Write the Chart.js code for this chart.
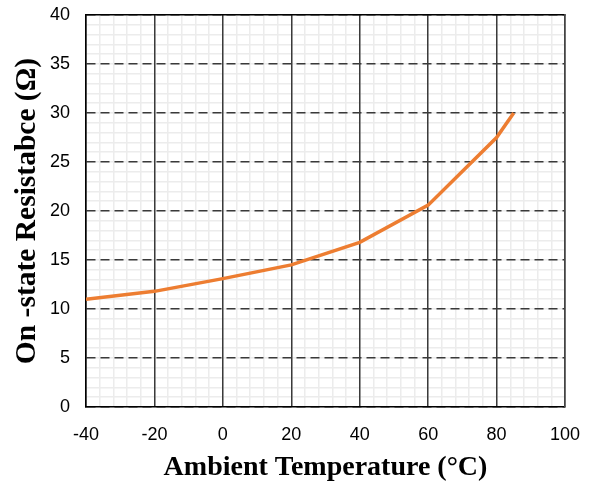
<!DOCTYPE html>
<html>
<head>
<meta charset="utf-8">
<script src="https://cdn.jsdelivr.net/npm/chart.js@4"></script>
<style>
  html, body { margin: 0; padding: 0; background: #fff; }
  #wrap { width: 590px; height: 482px; }
</style>
</head>
<body>
<div id="wrap"><canvas id="chart" width="590" height="482"></canvas></div>
<script>
    'use strict'

    var temps = [-40, -20, 0, 20, 40, 60, 80, 85];
    var resistance = [11.0, 11.8, 13.1, 14.5, 16.8, 20.6, 27.5, 30.0];
    var xTicks = [-40, -20, 0, 20, 40, 60, 80, 100];
    var yTicks = [0, 5, 10, 15, 20, 25, 30, 35, 40];

    var points = temps.map(function (t, i) { return { x: t, y: resistance[i] }; });

    var tickFont = { family: "'Liberation Sans', Arial, sans-serif", size: 18 };
    var serif = "'Liberation Serif', 'Times New Roman', serif";

    function noPadX(s) { s.height = 75; s.paddingLeft = 0; s.paddingRight = 0; }
    function noPadY(s) { s.width = 86; s.paddingTop = 0; s.paddingBottom = 0; }

    var ctx = document.getElementById('chart').getContext('2d');
    var myChart = new Chart(ctx, {
        type: 'line',
        data: {
            datasets: [{
                data: points,
                borderColor: '#ED7D31',
                borderWidth: 3.5,
                pointRadius: 0,
                tension: 0,
                fill: false
            }]
        },
        options: {
            responsive: false,
            animation: false,
            layout: { padding: { top: 15, right: 25, left: 0, bottom: 0 } },
            plugins: { legend: { display: false }, tooltip: { enabled: false } },
            scales: {
                x: {
                    type: 'linear',
                    position: 'bottom',
                    min: xTicks[0],
                    max: xTicks[xTicks.length - 1],
                    afterBuildTicks: function (s) { s.ticks = xTicks.map(function (v) { return { value: v }; }); },
                    afterFit: noPadX,
                    grid: { color: '#3a3a3a', lineWidth: 1.5, drawTicks: false },
                    border: { color: '#000', width: 1.5 },
                    ticks: { color: '#000', font: tickFont, padding: 17 },
                    title: {
                        display: true,
                        text: 'Ambient Temperature (\u00B0C)',
                        color: '#000',
                        font: { family: serif, size: 28, weight: 'bold' },
                        padding: { top: 0, bottom: -3 }
                    }
                },
                y: {
                    type: 'linear',
                    position: 'left',
                    min: yTicks[0],
                    max: yTicks[yTicks.length - 1],
                    afterBuildTicks: function (s) { s.ticks = yTicks.map(function (v) { return { value: v }; }); },
                    afterFit: noPadY,
                    grid: { color: '#3a3a3a', lineWidth: 1.5, drawTicks: false },
                    border: { color: '#000', width: 1.5, dash: [9, 5] },
                    ticks: { color: '#000', font: tickFont, padding: 16 },
                    title: {
                        display: true,
                        text: 'On -state Resistabce (\u03A9)',
                        color: '#000',
                        font: { family: serif, size: 29.5, weight: 'bold' },
                        padding: { top: 10, bottom: 0 }
                    }
                },
                // minor grid, also gives the top and right frame
                xMinor: {
                    type: 'linear',
                    position: 'top',
                    min: xTicks[0],
                    max: xTicks[xTicks.length - 1],
                    afterFit: function (s) { s.height = 0; s.paddingLeft = 0; s.paddingRight = 0; },
                    ticks: { display: false, stepSize: 4 },
                    grid: { color: '#ececec', lineWidth: 1.5, drawTicks: false, z: -2 },
                    border: { color: '#000', width: 1.5 }
                },
                yMinor: {
                    type: 'linear',
                    position: 'right',
                    min: yTicks[0],
                    max: yTicks[yTicks.length - 1],
                    afterFit: function (s) { s.width = 0; s.paddingTop = 0; s.paddingBottom = 0; },
                    ticks: { display: false, stepSize: 1 },
                    grid: { color: '#ececec', lineWidth: 1.5, drawTicks: false, z: -2 },
                    border: { color: '#444', width: 1.5 }
                }
            }
        }
    });
</script>
</body>
</html>
